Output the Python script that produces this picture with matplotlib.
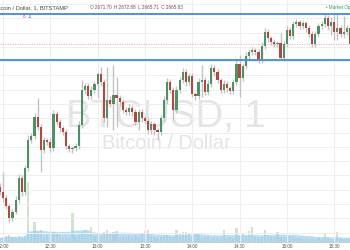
import numpy as np
import pandas as pd
import matplotlib
matplotlib.use('Agg')
import matplotlib.pyplot as plt
from matplotlib import font_manager

# 2-minute candles, BTCUSD on Bitstamp, 11:58 -> 15:40
first_open = 2616.0
closes = [
    2614.2, 2612.1, 2609.3, 2605.1, 2607.2, 2611.4, 2619.1, 2614.2, 2622.6, 2632.4,
    2633.8, 2640.5, 2637.0, 2628.9, 2632.4, 2631.7, 2629.6, 2641.5, 2638.7, 2636.6,
    2635.2, 2630.3, 2629.3, 2629.6, 2630.3, 2637.7, 2649.9, 2651.3, 2647.8, 2649.9,
    2652.0, 2655.5, 2652.7, 2640.1, 2646.4, 2645.0, 2648.2, 2647.1, 2645.7, 2642.9,
    2642.2, 2643.6, 2642.2, 2638.7, 2642.2, 2640.1, 2639.1, 2635.9, 2638.0, 2635.9,
    2635.2, 2640.1, 2646.4, 2652.7, 2649.9, 2642.9, 2649.9, 2653.4, 2656.2, 2652.7,
    2654.8, 2648.5, 2647.8, 2652.7, 2653.4, 2649.2, 2652.0, 2657.6, 2656.2, 2653.4,
    2649.9, 2652.0, 2650.6, 2649.6, 2652.7, 2659.0, 2654.1, 2658.3, 2661.8, 2663.2,
    2663.9, 2663.2, 2660.4, 2665.3, 2670.2, 2668.1, 2666.7, 2666.0, 2666.4, 2661.1,
    2666.0, 2670.9, 2668.8, 2673.0, 2673.7, 2672.3, 2673.4, 2671.6, 2669.5, 2666.0,
    2669.5, 2672.3, 2673.0, 2675.1, 2672.3, 2673.7, 2670.2, 2671.6, 2669.5, 2670.2,
    2671.7, 2665.83]

# wick length above / below the body (USD)
wick_up = [
    1.2, 7.0, 1.0, 0.8, 1.0, 1.4, 1.5, 1.0, 1.2, 1.6,
    1.0, 1.5, 6.6, 1.0, 1.2, 0.8, 1.5, 1.4, 1.2, 1.0,
    0.8, 1.0, 0.6, 0.8, 1.0, 1.4, 3.5, 1.2, 1.0, 1.5,
    1.2, 0.7, 2.5, 1.0, 11.5, 1.5, 10.5, 6.3, 1.0, 1.2,
    1.0, 1.4, 1.0, 1.0, 1.2, 1.0, 0.8, 1.0, 1.2, 0.8,
    0.8, 1.2, 1.5, 1.4, 1.0, 1.0, 1.5, 1.2, 1.5, 1.0,
    1.2, 1.0, 0.8, 1.4, 5.3, 1.0, 1.4, 1.5, 1.0, 1.0,
    0.8, 1.4, 1.0, 0.8, 1.0, 1.4, 3.2, 1.2, 1.5, 1.0,
    1.2, 0.8, 1.0, 1.4, 1.5, 1.0, 0.8, 1.0, 0.8, 3.5,
    1.0, 1.4, 1.0, 1.2, 1.0, 0.8, 1.0, 0.8, 1.0, 1.2,
    1.0, 1.2, 1.0, 1.4, 1.0, 1.7, 3.2, 5.3, 1.0, 5.6,
    1.0, 1.18]
wick_dn = [
    1.0, 1.4, 1.2, 1.4, 1.0, 0.8, 1.2, 1.5, 1.0, 1.2,
    1.0, 1.2, 1.0, 7.7, 1.0, 1.2, 1.5, 1.0, 1.2, 1.4,
    1.0, 1.2, 1.0, 1.4, 1.0, 1.2, 1.0, 1.4, 1.2, 1.0,
    1.2, 5.0, 1.4, 1.5, 3.2, 1.2, 9.0, 10.0, 1.2, 1.0,
    1.2, 1.0, 1.4, 1.2, 2.8, 1.4, 1.2, 1.0, 1.4, 1.8,
    2.8, 1.2, 1.0, 1.4, 1.2, 3.5, 1.0, 1.2, 1.0, 1.4,
    1.0, 1.2, 1.4, 1.0, 5.3, 1.2, 1.0, 1.2, 1.4, 1.0,
    1.2, 1.0, 1.4, 1.2, 1.0, 1.2, 6.6, 1.0, 1.2, 1.0,
    1.0, 1.2, 1.0, 1.2, 1.0, 1.4, 1.2, 1.0, 1.2, 0.7,
    1.2, 1.0, 1.2, 1.0, 1.2, 1.0, 1.2, 1.4, 1.2, 1.0,
    1.2, 1.0, 1.2, 1.0, 1.4, 3.2, 2.8, 2.8, 1.2, 1.4,
    1.0, 0.12]

# volume, BTC
volume = [
    8, 10, 12, 14, 10, 8, 12, 10, 12, 120,
    16, 40, 20, 24, 12, 14, 10, 20, 18, 12,
    10, 12, 10, 58, 12, 14, 20, 24, 16, 30,
    12, 16, 12, 20, 24, 18, 20, 22, 10, 12,
    10, 12, 10, 12, 10, 16, 22, 24, 12, 10,
    8, 10, 12, 14, 12, 10, 24, 18, 20, 20,
    18, 10, 16, 18, 8, 10, 12, 8, 10, 8,
    10, 24, 8, 10, 8, 28, 12, 16, 14, 22,
    30, 10, 8, 10, 24, 12, 10, 10, 20, 10,
    8, 10, 12, 10, 8, 8, 6, 8, 6, 8,
    6, 8, 6, 18, 10, 6, 6, 20, 8, 6,
    8, 6]

levels = [2676.5, 2660.4]
last_price = 2665.83
tick_min = [0, 30, 60, 90, 120, 150, 180, 210]
tick_labels = ['12:00', '12:30', '13:00', '13:30', '14:00', '14:30', '15:00', '15:30']

c = np.array(closes)
o = np.array([first_open] + closes[:-1])
hi = np.maximum(o, c) + np.array(wick_up)
lo = np.minimum(o, c) - np.array(wick_dn)
t = np.arange(len(c)) * 2 - 2
up = c >= o

green, red = '#4f9166', '#b04a3e'
W, H = 350, 250

def have(name):
    try:
        font_manager.findfont(name, fallback_to_default=False)
        return True
    except Exception:
        return False

narrow = have('Liberation Sans Narrow')

fig = plt.figure(figsize=(3.5, 2.5), dpi=100)
fig.patch.set_facecolor('white')
ax2 = fig.add_axes([0, 8 / H, 1, 242 / H])
ax = fig.add_axes([0, 8 / H, 1, 242 / H], sharex=ax2)
ax.patch.set_visible(False)

# watermark behind everything
if narrow:
    ax2.text(166 / W, 1 - 127 / H, 'BTCUSD, 1', transform=fig.transFigure, ha='center',
             va='baseline', fontsize=32, color='#e4e4e4', family='Liberation Sans Narrow')
else:
    ax2.text(166 / W, 1 - 127 / H, 'BTCUSD, 1', transform=fig.transFigure, ha='center',
             va='baseline', fontsize=27.5, color='#e4e4e4', family='Liberation Sans')
ax2.text(166.5 / W, 1 - 149 / H, 'Bitcoin / Dollar', transform=fig.transFigure, ha='center',
         va='baseline', fontsize=14.4, color='#e4e4e4', family='Liberation Sans')

# volume + its moving average
vcol = np.where(up, '#cfe4cf', '#edd3cf')
ax2.bar(t, volume, width=1.4, color=vcol, lw=0)
ma = pd.Series(volume, dtype=float).rolling(20, min_periods=1).mean()
ax2.fill_between(t, 0, ma.values, color='#94cdf1', alpha=0.65, lw=0)
ax2.set_ylim(0, 484)
ax2.set_yticks([])
for s in ax2.spines.values():
    s.set_visible(False)
ax2.tick_params(axis='x', length=0, labelbottom=False)

# candles
ax.vlines(t, lo, hi, color='#c2c2c2', lw=1.0, zorder=2)
body = np.maximum(np.abs(c - o), 0.35)
ax.bar(t, body, bottom=np.minimum(o, c), width=1.4,
       color=np.where(up, green, red), lw=0, zorder=3)

for lv in levels:
    ax.axhline(lv, color='#4d93dc', lw=1.4, zorder=4)
ax.axhline(last_price, color='#e6a6a6', lw=0.7, ls=(0, (1, 1.5)), zorder=1)

ax.set_xlim(-1.9, 220.0)
ax.set_ylim(2596.7, 2681.4)
ax.set_yticks(np.arange(2600, 2681, 5))
ax.set_xticks(tick_min)
ax.set_xticklabels(tick_labels)
ax.set_axisbelow(True)
ax.grid(True, color='#eeeeee', lw=0.7)
ax.tick_params(axis='y', length=0, labelleft=False)
ax.tick_params(axis='x', length=0, pad=1.3, labelsize=3.3, labelcolor='#555555')
for lab in ax.get_xticklabels():
    lab.set_family('Liberation Sans')
for k, s in ax.spines.items():
    s.set_visible(k == 'bottom')
ax.spines['bottom'].set_color('#cfcfcf')
ax.spines['bottom'].set_linewidth(0.8)

# legend texts along the top (cut by the frame edges, as in the screenshot)
fig.text(68 / W, 1 - 7.5 / H, 'Bitcoin / Dollar, 1, BITSTAMP', ha='right', va='center',
         fontsize=4.1, color='#444444', family='Liberation Sans')
fig.text(90 / W, 1 - 7.5 / H, 'O 2671.70  H 2672.88  L 2665.71  C 2665.83', ha='left',
         va='center', fontsize=3.3, color='#7a4840', family='Liberation Sans')
fig.text(22.5 / W, 1 - 16 / H, '8', ha='left', va='center', fontsize=3.3,
         color='#c0504d', family='Liberation Sans')
fig.text(27.5 / W, 1 - 16 / H, '11', ha='left', va='center', fontsize=3.3,
         color='#4d93dc', family='Liberation Sans')
fig.text(326 / W, 1 - 7 / H, '\u2022 Market Open', ha='left', va='center', fontsize=3.3,
         color='#3d9a5d', family='Liberation Sans')

fig.savefig('out.png', dpi=100)
